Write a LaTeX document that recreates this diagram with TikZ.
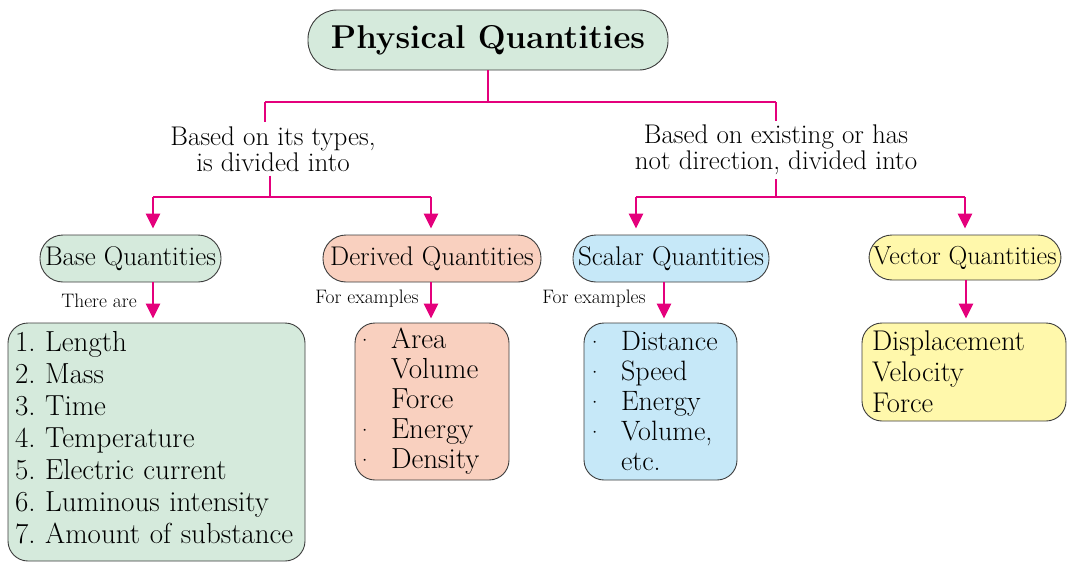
\documentclass[tikz,border=0pt]{standalone}
\usetikzlibrary{arrows.meta}
\definecolor{mag}{HTML}{E4007C}
\definecolor{gfill}{HTML}{D5EADC}
\definecolor{sfill}{HTML}{F9D0BF}
\definecolor{bfill}{HTML}{C6E8F8}
\definecolor{yfill}{HTML}{FFF8AB}
\definecolor{bord}{HTML}{3C3C3C}
\tikzset{
  pill/.style={draw=bord, line width=0.9pt, rounded corners=23pt, inner sep=0pt, font=\fontsize{27}{30}\selectfont},
  listbox/.style={draw=bord, line width=0.9pt, rounded corners=20pt, inner ysep=0pt, align=left},
  conn/.style={draw=mag, line width=2.8pt},
  arr/.style={draw=mag, line width=2.8pt, -{Triangle[width=14pt,length=15pt]}},
  small/.style={font=\fontsize{19.5}{22}\selectfont, inner sep=0pt},
  mid/.style={font=\fontsize{27}{26}\selectfont, align=center, inner sep=0pt},
}
\newcommand{\dt}{\makebox[33pt][l]{\hspace*{-2pt}\fontsize{24}{24}\selectfont\raisebox{0pt}{\textperiodcentered}}}
\newcommand{\nd}{\makebox[33pt][l]{}}
\begin{document}
\begin{tikzpicture}[x=1pt,y=-1pt]
\useasboundingbox (0,0) rectangle (1068,562);
% title
\node[pill, fill=gfill, minimum width=360pt, minimum height=60pt, rounded corners=29pt,
      font=\fontsize{33}{36}\selectfont\bfseries] (title) at (488,40) {Physical Quantities};
% labels
\node[mid] (lblL) at (273,149) {Based on its types,\\is divided into};
\node[mid] (lblR) at (776,150) {Based on existing or has\\not direction, divided into};
% junction coordinates
\coordinate (j0) at (488,102);
\coordinate (jL) at (265,102);
\coordinate (jR) at (776,102);
\coordinate (kL) at (270,197);
\coordinate (kR) at (776,197);
\coordinate (aB) at (153,197);
\coordinate (aD) at (431,197);
\coordinate (aS) at (636,197);
\coordinate (aV) at (965,197);
% second level
\node[pill, fill=gfill, minimum width=181pt, minimum height=47pt] (base) at (130.5,258.5) {Base Quantities};
\node[pill, fill=sfill, minimum width=218pt, minimum height=47pt] (der) at (432,258.5) {Derived Quantities};
\node[pill, fill=bfill, minimum width=196pt, minimum height=47pt] (sca) at (671,258.5) {Scalar Quantities};
\node[pill, fill=yfill, minimum width=192pt, minimum height=45pt, font=\fontsize{26}{29}\selectfont] (vec) at (965,257.5) {Vector Quantities};
% lists
\node[listbox, fill=gfill, minimum height=238pt, text width=283pt, inner xsep=7pt,
      font=\fontsize{29}{32}\selectfont] (bl) at (156.5,442)
  {1.\ Length\\2.\ Mass\\3.\ Time\\4.\ Temperature\\5.\ Electric current\\6.\ Luminous intensity\\7.\ Amount of substance\rule[-10pt]{0pt}{0pt}};
\node[listbox, fill=sfill, minimum height=157pt, text width=148pt, inner xsep=3pt,
      font=\fontsize{29}{30}\selectfont] (dl) at (432,401.5)
  {\dt Area\\\nd Volume\\\nd Force\\\dt Energy\\\dt Density};
\node[listbox, fill=bfill, minimum height=157pt, text width=145pt, inner xsep=4pt,
      font=\fontsize{28}{30}\selectfont] (sl) at (660.5,401.5)
  {\dt Distance\\\dt Speed\\\dt Energy\\\dt Volume,\\\nd etc.};
\node[listbox, fill=yfill, minimum height=98pt, text width=184pt, inner xsep=10pt,
      font=\fontsize{28.5}{31}\selectfont] (vl) at (964,372)
  {Displacement\\Velocity\\Force};
% small labels
\node[small] (t1) at (99,301) {There are};
\node[small] (t2) at (367,299) {For examples};
\node[small] (t3) at (594,299) {For examples};
% connectors
\draw[conn] (title.south) -- (j0);
\draw[conn] (jL) -- (jR);
\draw[conn] (jL) -- ([yshift=4pt]lblL.north -| jL);
\draw[conn] (jR) -- ([yshift=4pt]lblR.north -| jR);
\draw[conn] ([yshift=-4pt]lblL.south -| kL) -- (kL);
\draw[conn] ([yshift=-4pt]lblR.south -| kR) -- (kR);
\draw[conn] (aB) -- (aD);
\draw[conn] (aS) -- (aV);
\draw[arr] (aB) -- ([yshift=6pt]base.north -| aB);
\draw[arr] (aD) -- ([yshift=6pt]der.north -| aD);
\draw[arr] (aS) -- ([yshift=6pt]sca.north -| aS);
\draw[arr] (aV) -- ([yshift=6pt]vec.north -| aV);
\draw[arr] (base.south -| aB) -- ([yshift=4pt]bl.north -| aB);
\draw[arr] (der.south -| aD) -- ([yshift=4pt]dl.north -| aD);
\coordinate (aS2) at (664,0);
\draw[arr] (sca.south -| aS2) -- ([yshift=4pt]sl.north -| aS2);
\coordinate (aV2) at (966,0);
\draw[arr] (vec.south -| aV2) -- ([yshift=4pt]vl.north -| aV2);
\end{tikzpicture}
\end{document}
